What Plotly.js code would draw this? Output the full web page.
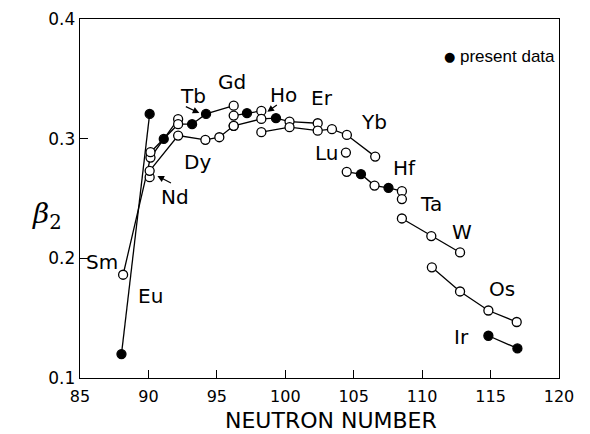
<!DOCTYPE html>
<html>
<head>
<meta charset="utf-8">
<script src="https://cdn.plot.ly/plotly-3.0.1.min.js"></script>
<style>html,body{margin:0;padding:0;background:#fff;}#chart{width:590px;height:434px;}</style>
</head>
<body>
<div id="chart"></div>
<script>
// Neutron number (N) and beta2 values, per isotope chain
// present: 1 = present data (filled), 0 = other data (open)
const euN = [88.03, 90.09];
const euB = [0.120, 0.3207];
const euP = [1, 1];

const smN = [88.15, 90.15, 92.17];
const smB = [0.1863, 0.2842, 0.3163];
const smP = [0, 0, 0];

const gdN = [90.15, 91.12, 92.17, 93.19, 94.21, 96.23];
const gdB = [0.2887, 0.2998, 0.3121, 0.3121, 0.3207, 0.3276];
const gdP = [0, 1, 0, 1, 1, 0];

const ndN = [90.09];
const ndB = [0.2678];
const ndP = [0];

const dyN = [90.09, 92.17, 94.16, 95.18, 96.23];
const dyB = [0.2731, 0.3026, 0.2990, 0.3012, 0.3107];
const dyP = [0, 0, 0, 0, 0];

const dy2N = [96.23, 97.2, 98.25];
const dy2B = [0.3193, 0.3213, 0.3232];
const dy2P = [0, 1, 0];

const erN = [96.23, 98.25, 99.32, 100.31, 102.37];
const erB = [0.3107, 0.3165, 0.3171, 0.3143, 0.3129];
const erP = [0, 0, 1, 0, 0];

const ybN = [98.25, 100.31, 102.37, 103.41, 104.5, 106.57];
const ybB = [0.3054, 0.3096, 0.3067, 0.3079, 0.3031, 0.2850];
const ybP = [0, 0, 0, 0, 0, 0];

const luN = [104.43];
const luB = [0.2884];
const luP = [0];

const hfN = [104.49, 105.53, 106.52, 107.54, 108.52];
const hfB = [0.2723, 0.2703, 0.2608, 0.2589, 0.2561];
const hfP = [0, 1, 0, 1, 0];

const taN = [108.52];
const taB = [0.2495];
const taP = [0];

const wN = [108.52, 110.67, 112.77];
const wB = [0.2333, 0.2186, 0.2049];
const wP = [0, 0, 0];

const osN = [110.71, 112.77, 114.84, 116.91];
const osB = [0.1925, 0.1723, 0.1564, 0.1468];
const osP = [0, 0, 0, 0];

const irN = [114.84, 116.96];
const irB = [0.1353, 0.1247];
const irP = [1, 1];

const xTicks = [85, 90, 95, 100, 105, 110, 115, 120];
const yTicks = [0.1, 0.2, 0.3, 0.4];
const yTickText = ['0.1', '0.2', '0.3', '0.4'];

// element labels: [text, N, beta2]
const labels = [
  ['Tb', 93.28, 0.3357],
  ['Gd', 96.13, 0.3474],
  ['Ho', 99.85, 0.3365],
  ['Er', 102.7, 0.334],
  ['Yb', 106.5, 0.314],
  ['Dy', 93.58, 0.2806],
  ['Nd', 91.97, 0.2514],
  ['Sm', 86.64, 0.1971],
  ['Eu', 90.15, 0.1687],
  ['Lu', 102.99, 0.2881],
  ['Hf', 108.68, 0.2756],
  ['Ta', 110.66, 0.2455],
  ['W', 112.9, 0.2222],
  ['Os', 115.84, 0.1746],
  ['Ir', 112.9, 0.1345]
];
// pointer arrows: [tipN, tipB, tailOffsetX(px), tailOffsetY(px)]
const arrows = [
  [93.72, 0.3215, -15, -7],
  [98.69, 0.3224, 11, -8],
  [90.66, 0.2689, 15, 8]
];

const chains = [
  [euN, euB, euP], [smN, smB, smP], [gdN, gdB, gdP], [ndN, ndB, ndP],
  [dyN, dyB, dyP], [dy2N, dy2B, dy2P], [erN, erB, erP], [ybN, ybB, ybP],
  [luN, luB, luP], [hfN, hfB, hfP], [taN, taB, taP], [wN, wB, wP],
  [osN, osB, osP], [irN, irB, irP]
];

const traces = chains.map(c => ({
  type: 'scatter',
  mode: 'lines+markers',
  x: c[0], y: c[1],
  line: {color: '#000', width: 1.3},
  marker: {
    symbol: 'circle', size: 9,
    color: c[2].map(p => p ? '#000' : '#fff'),
    line: {color: '#000', width: 1.3}
  },
  showlegend: false,
  hoverinfo: 'skip',
  cliponaxis: false
}));

const font = {family: 'DejaVu Sans, sans-serif', color: '#000'};
const annotations = labels.map(l => ({
  x: l[1], y: l[2], xref: 'x', yref: 'y', text: l[0], showarrow: false,
  font: Object.assign({}, font, {size: 20})
}));
arrows.forEach(a => {
  annotations.push({
    x: a[0], y: a[1], xref: 'x', yref: 'y', text: '', showarrow: true,
    ax: a[2], ay: a[3], arrowhead: 2, arrowsize: 1.1, arrowwidth: 1.2,
    arrowcolor: '#000', standoff: 0, startstandoff: 0
  });
});
// legend
annotations.push({
  x: 112.0, y: 0.3683, xref: 'x', yref: 'y', text: '●', showarrow: false,
  font: Object.assign({}, font, {size: 13})
});
annotations.push({
  x: 112.62, y: 0.3683, xref: 'x', yref: 'y', text: 'present data', showarrow: false,
  xanchor: 'left', font: {family: 'Liberation Sans, Arial, sans-serif', size: 17, color: '#000'}
});
// y-axis title
annotations.push({
  x: -0.105, y: 0.454, xref: 'paper', yref: 'paper',
  text: '<i>β</i><sub>2</sub>', showarrow: false,
  font: {family: 'DejaVu Serif, serif', size: 28, color: '#000'}
});
// x-axis title
annotations.push({
  x: 0.525, y: -0.119, xref: 'paper', yref: 'paper', yanchor: 'middle',
  text: 'NEUTRON NUMBER', showarrow: false,
  font: Object.assign({}, font, {size: 22})
});

const layout = {
  width: 590, height: 434,
  margin: {l: 80, r: 31, t: 19, b: 56},
  paper_bgcolor: '#fff', plot_bgcolor: '#fff',
  showlegend: false,
  xaxis: {
    range: [85, 120], tickvals: xTicks, ticktext: xTicks.map(String),
    ticks: 'inside', ticklen: 8, tickwidth: 1.2, tickcolor: '#000',
    showline: true, linecolor: '#000', linewidth: 1.3, mirror: true,
    showgrid: false, zeroline: false, automargin: false,
    tickfont: Object.assign({}, font, {size: 16}),
    ticklabelstandoff: 3
  },
  yaxis: {
    range: [0.1, 0.4], tickvals: yTicks, ticktext: yTickText,
    ticks: 'inside', ticklen: 8, tickwidth: 1.2, tickcolor: '#000',
    showline: true, linecolor: '#000', linewidth: 1.3, mirror: true,
    showgrid: false, zeroline: false, automargin: false,
    tickfont: Object.assign({}, font, {size: 17}),
    ticklabelstandoff: 0
  },
  annotations: annotations
};

Plotly.newPlot('chart', traces, layout, {staticPlot: true, displayModeBar: false});
</script>
</body>
</html>
